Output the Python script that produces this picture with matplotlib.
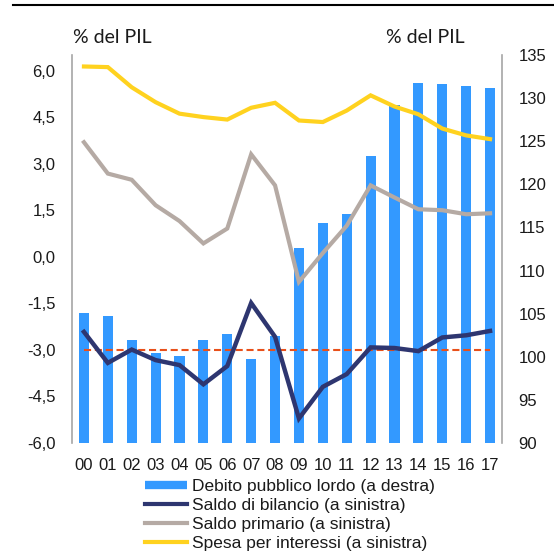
import matplotlib
matplotlib.use("Agg")
import matplotlib.pyplot as plt
from matplotlib.lines import Line2D

years = ["00", "01", "02", "03", "04", "05", "06", "07", "08", "09",
         "10", "11", "12", "13", "14", "15", "16", "17"]
debito = [105.1, 104.7, 101.9, 100.4, 100.1, 101.9, 102.6, 99.8, 102.4, 112.6,
          115.5, 116.6, 123.3, 129.2, 131.8, 131.6, 131.4, 131.2]
saldo_bilancio = [-2.42, -3.42, -2.99, -3.33, -3.49, -4.11, -3.52, -1.49, -2.58, -5.21,
                  -4.19, -3.78, -2.92, -2.94, -3.04, -2.60, -2.53, -2.39]
saldo_primario = [3.69, 2.68, 2.48, 1.66, 1.15, 0.43, 0.91, 3.30, 2.30, -0.81,
                  0.12, 1.0, 2.30, 1.91, 1.53, 1.50, 1.37, 1.40]
spesa_interessi = [6.13, 6.11, 5.46, 4.98, 4.61, 4.50, 4.42, 4.80, 4.96, 4.39,
                   4.34, 4.71, 5.20, 4.84, 4.59, 4.13, 3.91, 3.79]
soglia = -3.0
left_ticks = [-6.0, -4.5, -3.0, -1.5, 0.0, 1.5, 3.0, 4.5, 6.0]
right_ticks = [90, 95, 100, 105, 110, 115, 120, 125, 130, 135]
labels = ["Debito pubblico lordo (a destra)", "Saldo di bilancio (a sinistra)",
          "Saldo primario (a sinistra)", "Spesa per interessi (a sinistra)"]

C_BAR = "#3399FF"
C_NAVY = "#2E3670"
C_GREY = "#B5AAA4"
C_YEL = "#FFD21F"
C_RED = "#E8501A"
C_TXT = "#1a1a1a"
C_SPINE = "#A6A6A6"

W, H = 554, 555
fig = plt.figure(figsize=(W / 100, H / 100), dpi=100)
ax = fig.add_axes([72 / W, 1 - 443 / H, (502 - 72) / W, (443 - 55) / H])
ax2 = ax.twinx()
ax.set_zorder(ax2.get_zorder() + 1)
ax.patch.set_visible(False)

x = list(range(len(years)))
ax2.bar(x, debito, width=0.42, color=C_BAR, zorder=2)
ax2.set_ylim(90, 135)
ax2.set_yticks(right_ticks)
ax2.set_yticklabels([str(v) for v in right_ticks])

ax.hlines(soglia, x[0], x[-1], colors=C_RED, linewidth=1.5,
          linestyles=(0, (3.4, 1.8)), zorder=2)
ax.plot(x, spesa_interessi, color=C_YEL, lw=3, solid_joinstyle="miter", zorder=3)
ax.plot(x, saldo_primario, color=C_GREY, lw=3, solid_joinstyle="miter", zorder=3)
ax.plot(x, saldo_bilancio, color=C_NAVY, lw=3.2, solid_joinstyle="miter", zorder=4)
ax.set_ylim(-6, 6.5)
ax.set_xlim(-0.5, 17.5)
ax.set_yticks(left_ticks)
ax.set_yticklabels([f"{v:.1f}".replace(".", ",") for v in left_ticks])
ax.set_xticks(x)
ax.set_xticklabels(years)

for a in (ax, ax2):
    for s in ("top", "bottom"):
        a.spines[s].set_visible(False)
    a.spines["left"].set_color(C_SPINE)
    a.spines["right"].set_color(C_SPINE)
    a.spines["left"].set_linewidth(1.2)
    a.spines["right"].set_linewidth(1.2)

ax.spines["right"].set_visible(False)
ax2.spines["left"].set_visible(False)

ax.tick_params(axis="y", length=0, pad=12, labelsize=12, labelcolor=C_TXT)
ax.tick_params(axis="x", length=0, pad=11, labelsize=12, labelcolor=C_TXT)
ax2.tick_params(axis="y", length=0, pad=12, labelsize=12, labelcolor=C_TXT)
for t in ax.get_yticklabels() + ax.get_xticklabels() + ax2.get_yticklabels():
    t.set_fontfamily("Liberation Sans")

fig.text(73 / W, 1 - 43 / H, "% del PIL", ha="left", va="baseline",
         fontsize=14, family="Lato", color=C_TXT)
fig.text(465 / W, 1 - 43 / H, "% del PIL", ha="right", va="baseline",
         fontsize=14, family="Lato", color=C_TXT)

fig.add_artist(Line2D([13 / W, 1], [1 - 5 / H, 1 - 5 / H], color="black", lw=1.5,
                      transform=fig.transFigure))

handles = [Line2D([], [], color=C_BAR, lw=6, solid_capstyle="butt"),
           Line2D([], [], color=C_NAVY, lw=3),
           Line2D([], [], color=C_GREY, lw=3),
           Line2D([], [], color=C_YEL, lw=3)]
leg = fig.legend(handles, labels, loc="upper left",
                 bbox_to_anchor=(145 / W, 1 - 479 / H), frameon=False,
                 borderpad=0, borderaxespad=0, handlelength=2.4,
                 handletextpad=0.3, labelspacing=0.22,
                 prop={"family": "Liberation Sans", "size": 12.5})
for t in leg.get_texts():
    t.set_color(C_TXT)

fig.savefig("out.png", dpi=100)
